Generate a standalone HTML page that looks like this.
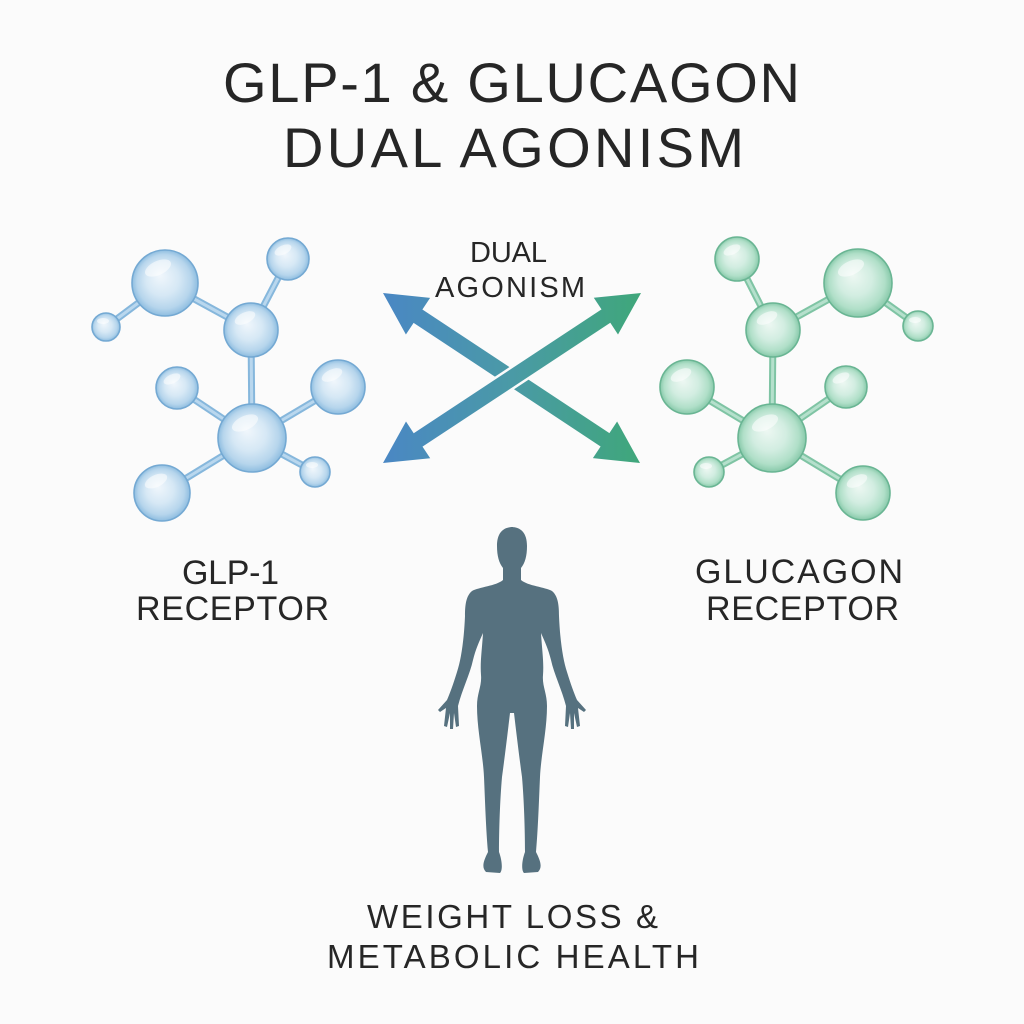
<!DOCTYPE html>
<html>
<head>
<meta charset="utf-8">
<style>
  html, body { margin: 0; padding: 0; background: #fbfbfb; }
  svg { display: block; }
  text { font-family: "Liberation Sans", "DejaVu Sans", sans-serif; fill: #262626; }
</style>
</head>
<body>
<svg width="1024" height="1024" viewBox="0 0 1024 1024" xmlns="http://www.w3.org/2000/svg">
  <defs>
    <radialGradient id="gb" cx="50%" cy="50%" r="50%" fx="42%" fy="38%">
      <stop offset="0" stop-color="#f1f7fc"/>
      <stop offset="0.5" stop-color="#d6e8f5"/>
      <stop offset="0.82" stop-color="#b6d5ec"/>
      <stop offset="1" stop-color="#8ebde0"/>
    </radialGradient>
    <radialGradient id="gg" cx="50%" cy="50%" r="50%" fx="42%" fy="38%">
      <stop offset="0" stop-color="#eef8f3"/>
      <stop offset="0.5" stop-color="#d2ede1"/>
      <stop offset="0.82" stop-color="#b0dfc8"/>
      <stop offset="1" stop-color="#88c9aa"/>
    </radialGradient>
    <linearGradient id="ag" gradientUnits="userSpaceOnUse" x1="383" y1="0" x2="641" y2="0">
      <stop offset="0" stop-color="#4a87c4"/>
      <stop offset="0.5" stop-color="#4a9aa6"/>
      <stop offset="1" stop-color="#3fa77a"/>
    </linearGradient>
  </defs>

  <rect width="1024" height="1024" fill="#fbfbfb"/>

  <!-- Title -->
  <text x="223" y="102" font-size="56" textLength="577" lengthAdjust="spacing">GLP-1 &amp; GLUCAGON</text>
  <text x="283" y="167" font-size="56" textLength="461" lengthAdjust="spacing">DUAL AGONISM</text>

  <!-- Left molecule bonds -->
  <g stroke-linecap="round">
    <g stroke="#86b7dc" stroke-width="7">
      <line x1="165" y1="283" x2="106" y2="327"/>
      <line x1="165" y1="283" x2="251" y2="330"/>
      <line x1="251" y1="330" x2="288" y2="259"/>
      <line x1="251" y1="330" x2="252" y2="438"/>
      <line x1="252" y1="438" x2="177" y2="388"/>
      <line x1="252" y1="438" x2="338" y2="387"/>
      <line x1="252" y1="438" x2="162" y2="493"/>
      <line x1="252" y1="438" x2="315" y2="472"/>
    </g>
    <g stroke="#b9d7ee" stroke-width="3">
      <line x1="165" y1="283" x2="106" y2="327"/>
      <line x1="165" y1="283" x2="251" y2="330"/>
      <line x1="251" y1="330" x2="288" y2="259"/>
      <line x1="251" y1="330" x2="252" y2="438"/>
      <line x1="252" y1="438" x2="177" y2="388"/>
      <line x1="252" y1="438" x2="338" y2="387"/>
      <line x1="252" y1="438" x2="162" y2="493"/>
      <line x1="252" y1="438" x2="315" y2="472"/>
    </g>
  </g>
  <!-- Left molecule spheres -->
  <g fill="url(#gb)" stroke="#74a9d3" stroke-width="1.6">
    <circle cx="165" cy="283" r="33"/>
    <circle cx="106" cy="327" r="14"/>
    <circle cx="288" cy="259" r="21"/>
    <circle cx="251" cy="330" r="27"/>
    <circle cx="177" cy="388" r="21"/>
    <circle cx="338" cy="387" r="27"/>
    <circle cx="252" cy="438" r="34"/>
    <circle cx="162" cy="493" r="28"/>
    <circle cx="315" cy="472" r="15"/>
  </g>
  <g fill="#ffffff" opacity="0.55">
    <ellipse cx="158" cy="268" rx="14" ry="7" transform="rotate(-25 158 268)"/>
    <ellipse cx="103" cy="321" rx="6" ry="3"/>
    <ellipse cx="283" cy="250" rx="9" ry="4.5" transform="rotate(-25 283 250)"/>
    <ellipse cx="245" cy="318" rx="11" ry="5.5" transform="rotate(-25 245 318)"/>
    <ellipse cx="172" cy="379" rx="9" ry="4.5" transform="rotate(-25 172 379)"/>
    <ellipse cx="332" cy="375" rx="11" ry="5.5" transform="rotate(-25 332 375)"/>
    <ellipse cx="245" cy="423" rx="14" ry="7" transform="rotate(-25 245 423)"/>
    <ellipse cx="156" cy="481" rx="12" ry="6" transform="rotate(-25 156 481)"/>
    <ellipse cx="312" cy="465" rx="6" ry="3"/>
  </g>

  <!-- Right molecule bonds -->
  <g stroke-linecap="round">
    <g stroke="#7fc4a4" stroke-width="7">
      <line x1="737" y1="259" x2="773" y2="330"/>
      <line x1="773" y1="330" x2="858" y2="283"/>
      <line x1="858" y1="283" x2="918" y2="326"/>
      <line x1="773" y1="330" x2="772" y2="438"/>
      <line x1="772" y1="438" x2="687" y2="387"/>
      <line x1="772" y1="438" x2="846" y2="387"/>
      <line x1="772" y1="438" x2="709" y2="472"/>
      <line x1="772" y1="438" x2="863" y2="493"/>
    </g>
    <g stroke="#b5e0cc" stroke-width="3">
      <line x1="737" y1="259" x2="773" y2="330"/>
      <line x1="773" y1="330" x2="858" y2="283"/>
      <line x1="858" y1="283" x2="918" y2="326"/>
      <line x1="773" y1="330" x2="772" y2="438"/>
      <line x1="772" y1="438" x2="687" y2="387"/>
      <line x1="772" y1="438" x2="846" y2="387"/>
      <line x1="772" y1="438" x2="709" y2="472"/>
      <line x1="772" y1="438" x2="863" y2="493"/>
    </g>
  </g>
  <g fill="url(#gg)" stroke="#69b593" stroke-width="1.6">
    <circle cx="737" cy="259" r="22"/>
    <circle cx="858" cy="283" r="34"/>
    <circle cx="918" cy="326" r="15"/>
    <circle cx="773" cy="330" r="27"/>
    <circle cx="687" cy="387" r="27"/>
    <circle cx="846" cy="387" r="21"/>
    <circle cx="772" cy="438" r="34"/>
    <circle cx="709" cy="472" r="15"/>
    <circle cx="863" cy="493" r="27"/>
  </g>
  <g fill="#ffffff" opacity="0.55">
    <ellipse cx="732" cy="250" rx="9" ry="4.5" transform="rotate(-25 732 250)"/>
    <ellipse cx="851" cy="268" rx="14" ry="7" transform="rotate(-25 851 268)"/>
    <ellipse cx="915" cy="320" rx="6" ry="3"/>
    <ellipse cx="767" cy="318" rx="11" ry="5.5" transform="rotate(-25 767 318)"/>
    <ellipse cx="681" cy="375" rx="11" ry="5.5" transform="rotate(-25 681 375)"/>
    <ellipse cx="841" cy="378" rx="9" ry="4.5" transform="rotate(-25 841 378)"/>
    <ellipse cx="765" cy="423" rx="14" ry="7" transform="rotate(-25 765 423)"/>
    <ellipse cx="706" cy="466" rx="6" ry="3"/>
    <ellipse cx="857" cy="481" rx="11" ry="5.5" transform="rotate(-25 857 481)"/>
  </g>

  <!-- Center label -->
  <text x="470" y="262" font-size="29" textLength="77" lengthAdjust="spacing">DUAL</text>
  <text x="435" y="297" font-size="29" textLength="150" lengthAdjust="spacing">AGONISM</text>

  <!-- Arrows: TL->BR underneath -->
  <polygon fill="url(#ag)" points="383,293 405.9,334.5 413.6,322.9 600.6,446.5 592.9,458.1 640,463 617.1,421.5 609.4,433.1 422.4,309.5 430.1,297.9"/>
  <!-- BL->TR on top with white gap -->
  <polygon fill="url(#ag)" stroke="#fbfbfb" stroke-width="5" paint-order="stroke" stroke-linejoin="round" points="383,463 430.2,458.3 422.5,446.6 610.3,322.8 618,334.5 641,293 593.8,297.7 601.5,309.4 413.7,433.2 406,421.5"/>

  <!-- Receptor labels -->
  <text x="182" y="584" font-size="34" textLength="97" lengthAdjust="spacing">GLP-1</text>
  <text x="136" y="620" font-size="34" textLength="193" lengthAdjust="spacing">RECEPTOR</text>
  <text x="695" y="583" font-size="34" textLength="208" lengthAdjust="spacing">GLUCAGON</text>
  <text x="706" y="620" font-size="34" textLength="193" lengthAdjust="spacing">RECEPTOR</text>

  <!-- Human figure -->
  <g fill="#56717f">
    <path id="halfbody" d="M513 527 C503 527 497 533 497 546 C497 556 499 563 503 568 L503 580 C496 586 479 587 472 591 C466 596 465 605 465 616 C464 640 461 660 457 672 C453 685 450 693 447 700 L438 710 L440 712 L446 708 L444 726 L447 727 L450 713 L450 729 L453 729 L454 713 L456 727 L459 726 L458 706 C462 690 470 674 473 660 C476 648 480 640 483 633 C482 650 480 662 481 675 C482 686 477 693 477 706 C477 730 483 755 484 777 C485 800 486 830 488 852 C484 860 481 867 486 872 L500 873 C503 870 502 860 499 852 C499 830 500 800 502 777 C505 755 508 730 510 713 L513 713 Z"/>
    <path transform="matrix(-1 0 0 1 1024 0)" d="M513 527 C503 527 497 533 497 546 C497 556 499 563 503 568 L503 580 C496 586 479 587 472 591 C466 596 465 605 465 616 C464 640 461 660 457 672 C453 685 450 693 447 700 L438 710 L440 712 L446 708 L444 726 L447 727 L450 713 L450 729 L453 729 L454 713 L456 727 L459 726 L458 706 C462 690 470 674 473 660 C476 648 480 640 483 633 C482 650 480 662 481 675 C482 686 477 693 477 706 C477 730 483 755 484 777 C485 800 486 830 488 852 C484 860 481 867 486 872 L500 873 C503 870 502 860 499 852 C499 830 500 800 502 777 C505 755 508 730 510 713 L513 713 Z"/>
  </g>

  <!-- Bottom label -->
  <text x="367" y="928" font-size="33" textLength="291" lengthAdjust="spacing">WEIGHT LOSS &amp;</text>
  <text x="327" y="968" font-size="33" textLength="372" lengthAdjust="spacing">METABOLIC HEALTH</text>
</svg>
</body>
</html>
